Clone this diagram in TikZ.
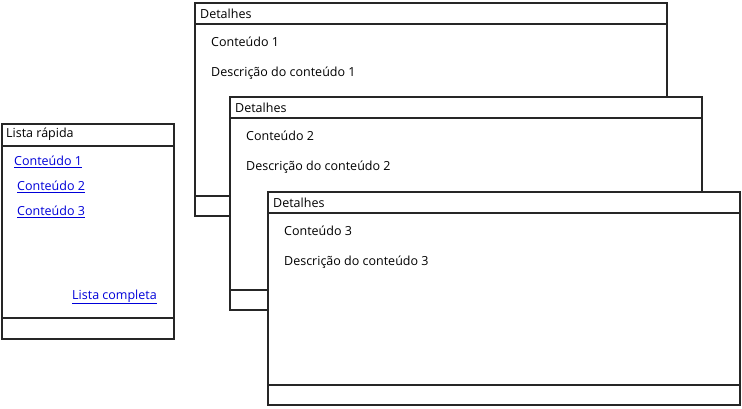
\documentclass[tikz,border=0pt]{standalone}
\usepackage{fontspec}
\setmainfont{Open Sans}
\begin{document}
\begin{tikzpicture}[x=1pt,y=-1pt,
  box/.style={draw=black!85,line width=1.5pt,fill=white},
  txt/.style={anchor=west,inner sep=0pt,font=\fontsize{12.5}{14}\selectfont},
  lnk/.style={txt,text=blue!85!black}]
\useasboundingbox (0,0) rectangle (742,409);
% left panel
\draw[box] (2,124) rectangle (174,339);
\draw[box] (2,124) rectangle (174,146);
\draw[box] (2,318) rectangle (174,339);
\node[txt] (lt) at (6,134) {Lista rápida};
\node[lnk] (l1) at (14,162) {\underline{Conteúdo 1}};
\node[lnk] (l2) at (17,187) {\underline{Conteúdo 2}};
\node[lnk] (l3) at (17,212) {\underline{Conteúdo 3}};
\node[lnk,anchor=east] (lc) at (157,297) {\underline{Lista completa}};
% windows
\foreach \x/\y/\n in {195/3/1,230/97/2,268/192/3}{
  \draw[box] (\x,\y) rectangle ++(472,213);
  \draw[box] (\x,\y) rectangle ++(472,21);
  \draw[box] (\x,\y+193) rectangle ++(472,20);
  \node[txt] (d\n) at (\x+5,\y+10.5) {Detalhes};
  \node[txt] (c\n) at (\x+16,\y+39) {Conteúdo \n};
  \node[txt] (s\n) at (\x+16,\y+70) {Descrição do conteúdo \n};
}
\end{tikzpicture}
\end{document}
